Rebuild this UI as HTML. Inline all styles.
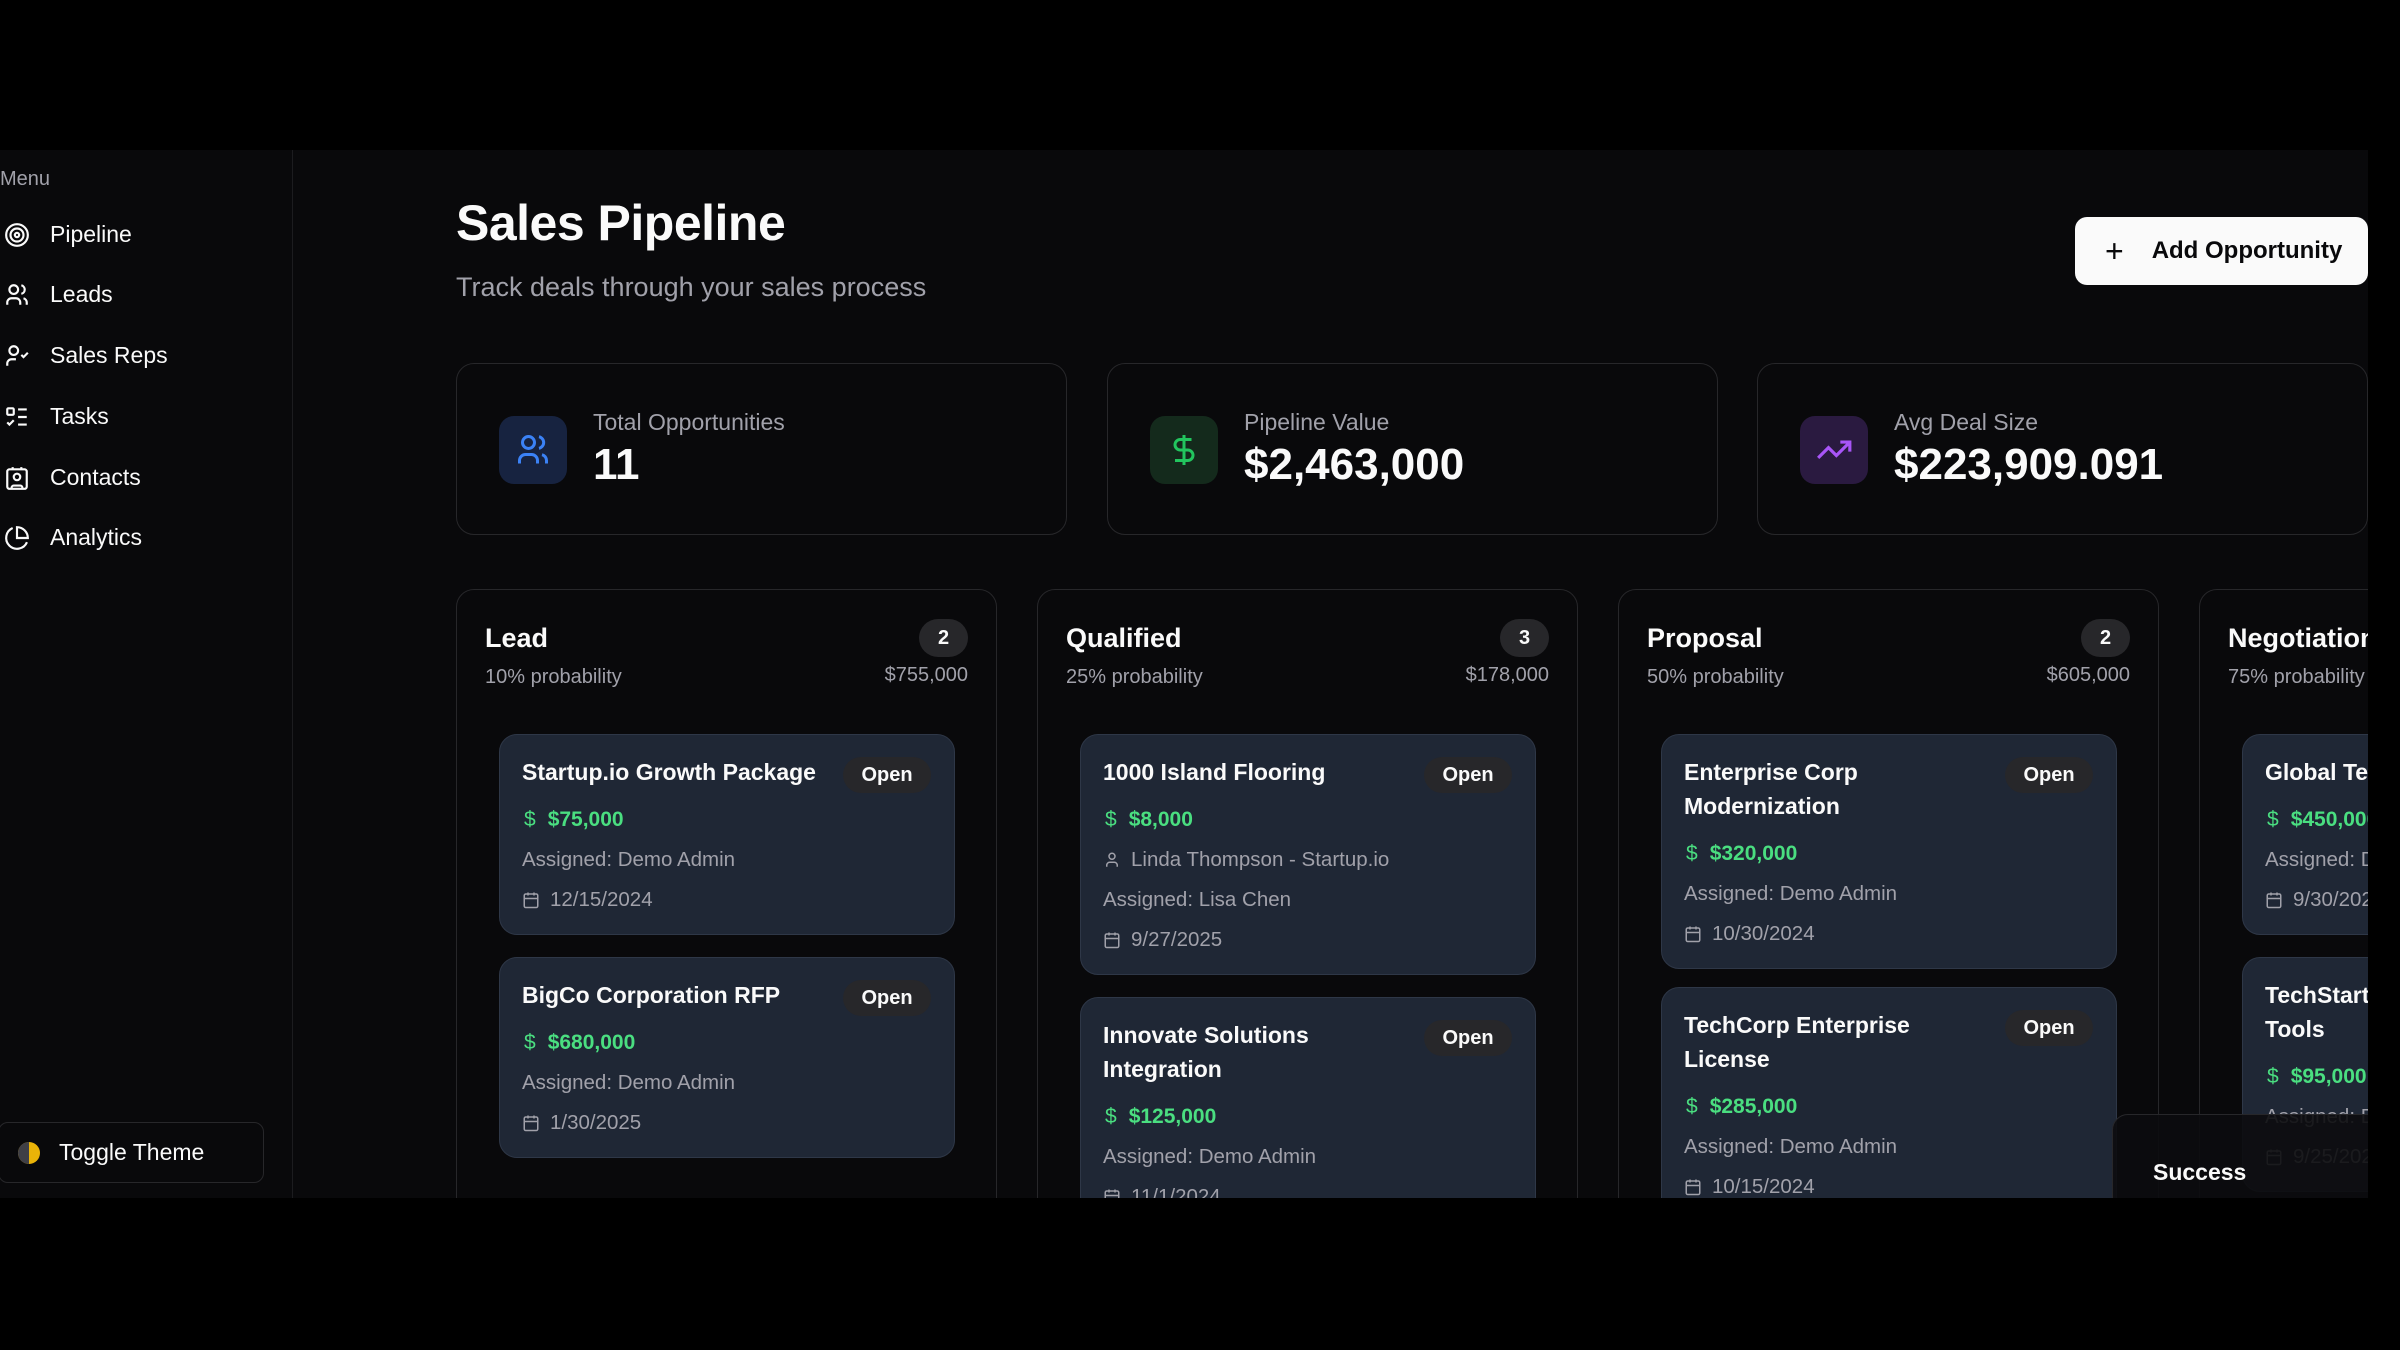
<!DOCTYPE html>
<html><head><meta charset="utf-8"><style>
*{box-sizing:border-box;margin:0;padding:0}
html,body{width:2400px;height:1350px;overflow:hidden}
body{background:#000;font-family:"Liberation Sans",sans-serif;color:#fafafa;position:relative}
#app{position:absolute;left:0;top:150px;width:2368px;height:1048px;background:#09090b;overflow:hidden}
#side{position:absolute;left:0;top:0;width:293px;height:1048px;border-right:1px solid #1c1c1f;background:#09090b}
.menu{position:absolute;left:0;top:18px;font-size:20px;color:#a1a1aa}
.nav{position:absolute;left:0;height:40px;display:flex;align-items:center;font-size:23px;color:#fafafa}
.nav svg{position:absolute;left:4px;top:8px}
.nav span{position:absolute;left:50px;white-space:nowrap}
.tog{position:absolute;left:-2px;top:972px;width:266px;height:61px;border:1px solid #27272a;border-radius:10px;font-size:23px;display:flex;align-items:center}
.tog span{margin-left:60px}
.abs{position:absolute}
h1{position:absolute;left:456px;top:44px;font-size:50px;font-weight:700;letter-spacing:-0.5px}
.sub{position:absolute;left:456px;top:122px;font-size:27px;color:#a1a1aa}
.btn{position:absolute;left:2075px;top:67px;width:293px;height:68px;background:#fafafa;border-radius:12px;color:#09090b;font-size:24px;font-weight:600;display:flex;align-items:center}
.stat{position:absolute;top:213px;height:172px;width:611px;border:1px solid #27272a;border-radius:18px}
.ib{position:absolute;left:42px;top:52px;width:68px;height:68px;border-radius:15px;display:flex;align-items:center;justify-content:center}
.sl{position:absolute;left:136px;top:45px;font-size:23px;color:#a1a1aa;white-space:nowrap}
.sv{position:absolute;left:136px;top:76px;font-size:44px;font-weight:700;white-space:nowrap}
.col{position:absolute;top:439px;width:541px;height:700px;border:1px solid #27272a;border-radius:18px}
.ct{position:absolute;left:28px;top:33px;font-size:27px;font-weight:700;white-space:nowrap}
.cb{position:absolute;right:28px;top:29px;width:49px;height:38px;border-radius:19px;background:#27272a;font-size:20px;font-weight:700;display:flex;align-items:center;justify-content:center}
.cp{position:absolute;left:28px;top:76px;font-size:20px;color:#a1a1aa;white-space:nowrap}
.ca{position:absolute;right:28px;top:74px;font-size:20px;color:#a1a1aa}
.card{position:absolute;left:42px;width:456px;background:#1f2735;border:1px solid #2e3747;border-radius:18px;padding:20px 22px 19px}
.t{font-size:23px;font-weight:600;line-height:34px;width:300px}
.am{margin-top:16px;line-height:30px;font-size:21px;font-weight:700;color:#4ade80;white-space:nowrap}
.am i{font-style:normal;font-weight:400;margin-right:12px;margin-left:2px}
.l{margin-top:10px;line-height:30px;font-size:20.5px;color:#a1a1aa;white-space:nowrap;display:flex;align-items:center}
.l svg{margin-right:10px}
.open{position:absolute;right:23px;top:22px;width:88px;height:36px;border-radius:18px;background:#27272a;font-size:20px;font-weight:700;display:flex;align-items:center;justify-content:center}
.toast{position:absolute;left:2112px;top:964px;width:300px;height:120px;background:rgba(12,12,14,.9);border:1px solid #27272a;border-radius:16px}
.toast span{position:absolute;left:40px;top:44px;font-size:23px;font-weight:700}
</style></head><body>
<div id="app">
<div id="side">
<div class="menu">Menu</div>
<div class="nav" style="top:64px"><svg width="26" height="26" viewBox="0 0 24 24" fill="none" stroke="#fafafa" stroke-width="2"><circle cx="12" cy="12" r="10"/><circle cx="12" cy="12" r="6"/><circle cx="12" cy="12" r="2"/></svg><span>Pipeline</span></div>
<div class="nav" style="top:124px"><svg width="26" height="26" viewBox="0 0 24 24" fill="none" stroke="#fafafa" stroke-width="2"><circle cx="9" cy="7" r="4"/><path d="M3 21v-2a4 4 0 0 1 4-4h4a4 4 0 0 1 4 4v2M16 3.1a4 4 0 0 1 0 7.8M21 21v-2a4 4 0 0 0-3-3.9"/></svg><span>Leads</span></div>
<div class="nav" style="top:185px"><svg width="26" height="26" viewBox="0 0 24 24" fill="none" stroke="#fafafa" stroke-width="2"><circle cx="9" cy="7" r="4"/><path d="M3 21v-2a4 4 0 0 1 4-4h4M16 11l2 2 4-4"/></svg><span>Sales Reps</span></div>
<div class="nav" style="top:246px"><svg width="26" height="26" viewBox="0 0 24 24" fill="none" stroke="#fafafa" stroke-width="2"><path d="M13 5h8M13 12h8M13 19h8M3 17l2 2 4-4"/><rect x="3" y="4" width="6" height="6" rx="1"/></svg><span>Tasks</span></div>
<div class="nav" style="top:307px"><svg width="26" height="26" viewBox="0 0 24 24" fill="none" stroke="#fafafa" stroke-width="2"><rect x="3" y="4" width="18" height="18" rx="2"/><circle cx="12" cy="11" r="3"/><path d="M7 22v-1a2 2 0 0 1 2-2h6a2 2 0 0 1 2 2v1M8 2v2M16 2v2"/></svg><span>Contacts</span></div>
<div class="nav" style="top:367px"><svg width="26" height="26" viewBox="0 0 24 24" fill="none" stroke="#fafafa" stroke-width="2"><path d="M21.2 15.9A10 10 0 1 1 8 2.8"/><path d="M22 12A10 10 0 0 0 12 2v10z"/></svg><span>Analytics</span></div>
<div class="tog"><svg class="abs" style="left:18px;top:18px" width="24" height="24" viewBox="0 0 24 24"><circle cx="12" cy="12" r="11" fill="#eab308"/><path d="M12 1a11 11 0 0 0 0 22z" fill="#3f3f46"/></svg><span>Toggle Theme</span></div>
</div>

<h1>Sales Pipeline</h1>
<div class="sub">Track deals through your sales process</div>
<div class="btn"><span style="margin-left:30px;font-size:32px;font-weight:300">+</span><span style="margin-left:28px">Add Opportunity</span></div>

<div class="stat" style="left:456px"><div class="ib" style="background:#172340"><svg width="36" height="36" viewBox="0 0 24 24" fill="none" stroke="#3b82f6" stroke-width="2"><circle cx="9" cy="7" r="4"/><path d="M3 21v-2a4 4 0 0 1 4-4h4a4 4 0 0 1 4 4v2M16 3.1a4 4 0 0 1 0 7.8M21 21v-2a4 4 0 0 0-3-3.9"/></svg></div><div class="sl">Total Opportunities</div><div class="sv">11</div></div>
<div class="stat" style="left:1107px"><div class="ib" style="background:#142a1c"><svg width="36" height="36" viewBox="0 0 24 24" fill="none" stroke="#22c55e" stroke-width="2"><path d="M12 2v20M17 5H9.5a3.5 3.5 0 0 0 0 7h5a3.5 3.5 0 0 1 0 7H6"/></svg></div><div class="sl">Pipeline Value</div><div class="sv">$2,463,000</div></div>
<div class="stat" style="left:1757px"><div class="ib" style="background:#2a1a40"><svg width="38" height="38" viewBox="0 0 24 24" fill="none" stroke="#a855f7" stroke-width="2"><path d="M22 7l-8.5 8.5-5-5L2 17M16 7h6v6"/></svg></div><div class="sl">Avg Deal Size</div><div class="sv">$223,909.091</div></div>

<div class="col" style="left:456px">
<div class="ct">Lead</div><div class="cb">2</div><div class="cp">10% probability</div><div class="ca">$755,000</div>
<div class="card" style="top:144px"><div class="open">Open</div><div class="t">Startup.io Growth Package</div><div class="am"><i>$</i>$75,000</div><div class="l">Assigned: Demo Admin</div><div class="l"><svg width="18" height="18" viewBox="0 0 24 24" fill="none" stroke="#a1a1aa" stroke-width="2"><rect x="3" y="4" width="18" height="18" rx="2"/><path d="M16 2v4M8 2v4M3 10h18"/></svg>12/15/2024</div></div>
<div class="card" style="top:367px"><div class="open">Open</div><div class="t">BigCo Corporation RFP</div><div class="am"><i>$</i>$680,000</div><div class="l">Assigned: Demo Admin</div><div class="l"><svg width="18" height="18" viewBox="0 0 24 24" fill="none" stroke="#a1a1aa" stroke-width="2"><rect x="3" y="4" width="18" height="18" rx="2"/><path d="M16 2v4M8 2v4M3 10h18"/></svg>1/30/2025</div></div>
</div>

<div class="col" style="left:1037px">
<div class="ct">Qualified</div><div class="cb">3</div><div class="cp">25% probability</div><div class="ca">$178,000</div>
<div class="card" style="top:144px"><div class="open">Open</div><div class="t">1000 Island Flooring</div><div class="am"><i>$</i>$8,000</div><div class="l"><svg width="18" height="18" viewBox="0 0 24 24" fill="none" stroke="#a1a1aa" stroke-width="2"><circle cx="12" cy="7" r="4"/><path d="M5 21v-2a4 4 0 0 1 4-4h6a4 4 0 0 1 4 4v2"/></svg>Linda Thompson - Startup.io</div><div class="l">Assigned: Lisa Chen</div><div class="l"><svg width="18" height="18" viewBox="0 0 24 24" fill="none" stroke="#a1a1aa" stroke-width="2"><rect x="3" y="4" width="18" height="18" rx="2"/><path d="M16 2v4M8 2v4M3 10h18"/></svg>9/27/2025</div></div>
<div class="card" style="top:407px"><div class="open">Open</div><div class="t">Innovate Solutions Integration</div><div class="am"><i>$</i>$125,000</div><div class="l">Assigned: Demo Admin</div><div class="l"><svg width="18" height="18" viewBox="0 0 24 24" fill="none" stroke="#a1a1aa" stroke-width="2"><rect x="3" y="4" width="18" height="18" rx="2"/><path d="M16 2v4M8 2v4M3 10h18"/></svg>11/1/2024</div></div>
</div>

<div class="col" style="left:1618px">
<div class="ct">Proposal</div><div class="cb">2</div><div class="cp">50% probability</div><div class="ca">$605,000</div>
<div class="card" style="top:144px"><div class="open">Open</div><div class="t">Enterprise Corp Modernization</div><div class="am"><i>$</i>$320,000</div><div class="l">Assigned: Demo Admin</div><div class="l"><svg width="18" height="18" viewBox="0 0 24 24" fill="none" stroke="#a1a1aa" stroke-width="2"><rect x="3" y="4" width="18" height="18" rx="2"/><path d="M16 2v4M8 2v4M3 10h18"/></svg>10/30/2024</div></div>
<div class="card" style="top:397px"><div class="open">Open</div><div class="t">TechCorp Enterprise License</div><div class="am"><i>$</i>$285,000</div><div class="l">Assigned: Demo Admin</div><div class="l"><svg width="18" height="18" viewBox="0 0 24 24" fill="none" stroke="#a1a1aa" stroke-width="2"><rect x="3" y="4" width="18" height="18" rx="2"/><path d="M16 2v4M8 2v4M3 10h18"/></svg>10/15/2024</div></div>
</div>

<div class="col" style="left:2199px">
<div class="ct">Negotiation</div><div class="cb">2</div><div class="cp">75% probability</div>
<div class="card" style="top:144px"><div class="t">Global Tech Solutions</div><div class="am"><i>$</i>$450,000</div><div class="l">Assigned: Demo Admin</div><div class="l"><svg width="18" height="18" viewBox="0 0 24 24" fill="none" stroke="#a1a1aa" stroke-width="2"><rect x="3" y="4" width="18" height="18" rx="2"/><path d="M16 2v4M8 2v4M3 10h18"/></svg>9/30/2024</div></div>
<div class="card" style="top:367px"><div class="t" style="width:260px">TechStart Development Tools</div><div class="am"><i>$</i>$95,000</div><div class="l">Assigned: Demo Admin</div><div class="l"><svg width="18" height="18" viewBox="0 0 24 24" fill="none" stroke="#a1a1aa" stroke-width="2"><rect x="3" y="4" width="18" height="18" rx="2"/><path d="M16 2v4M8 2v4M3 10h18"/></svg>9/25/2024</div></div>
</div>

<div class="toast"><span>Success</span></div>
</div>
</body></html>
